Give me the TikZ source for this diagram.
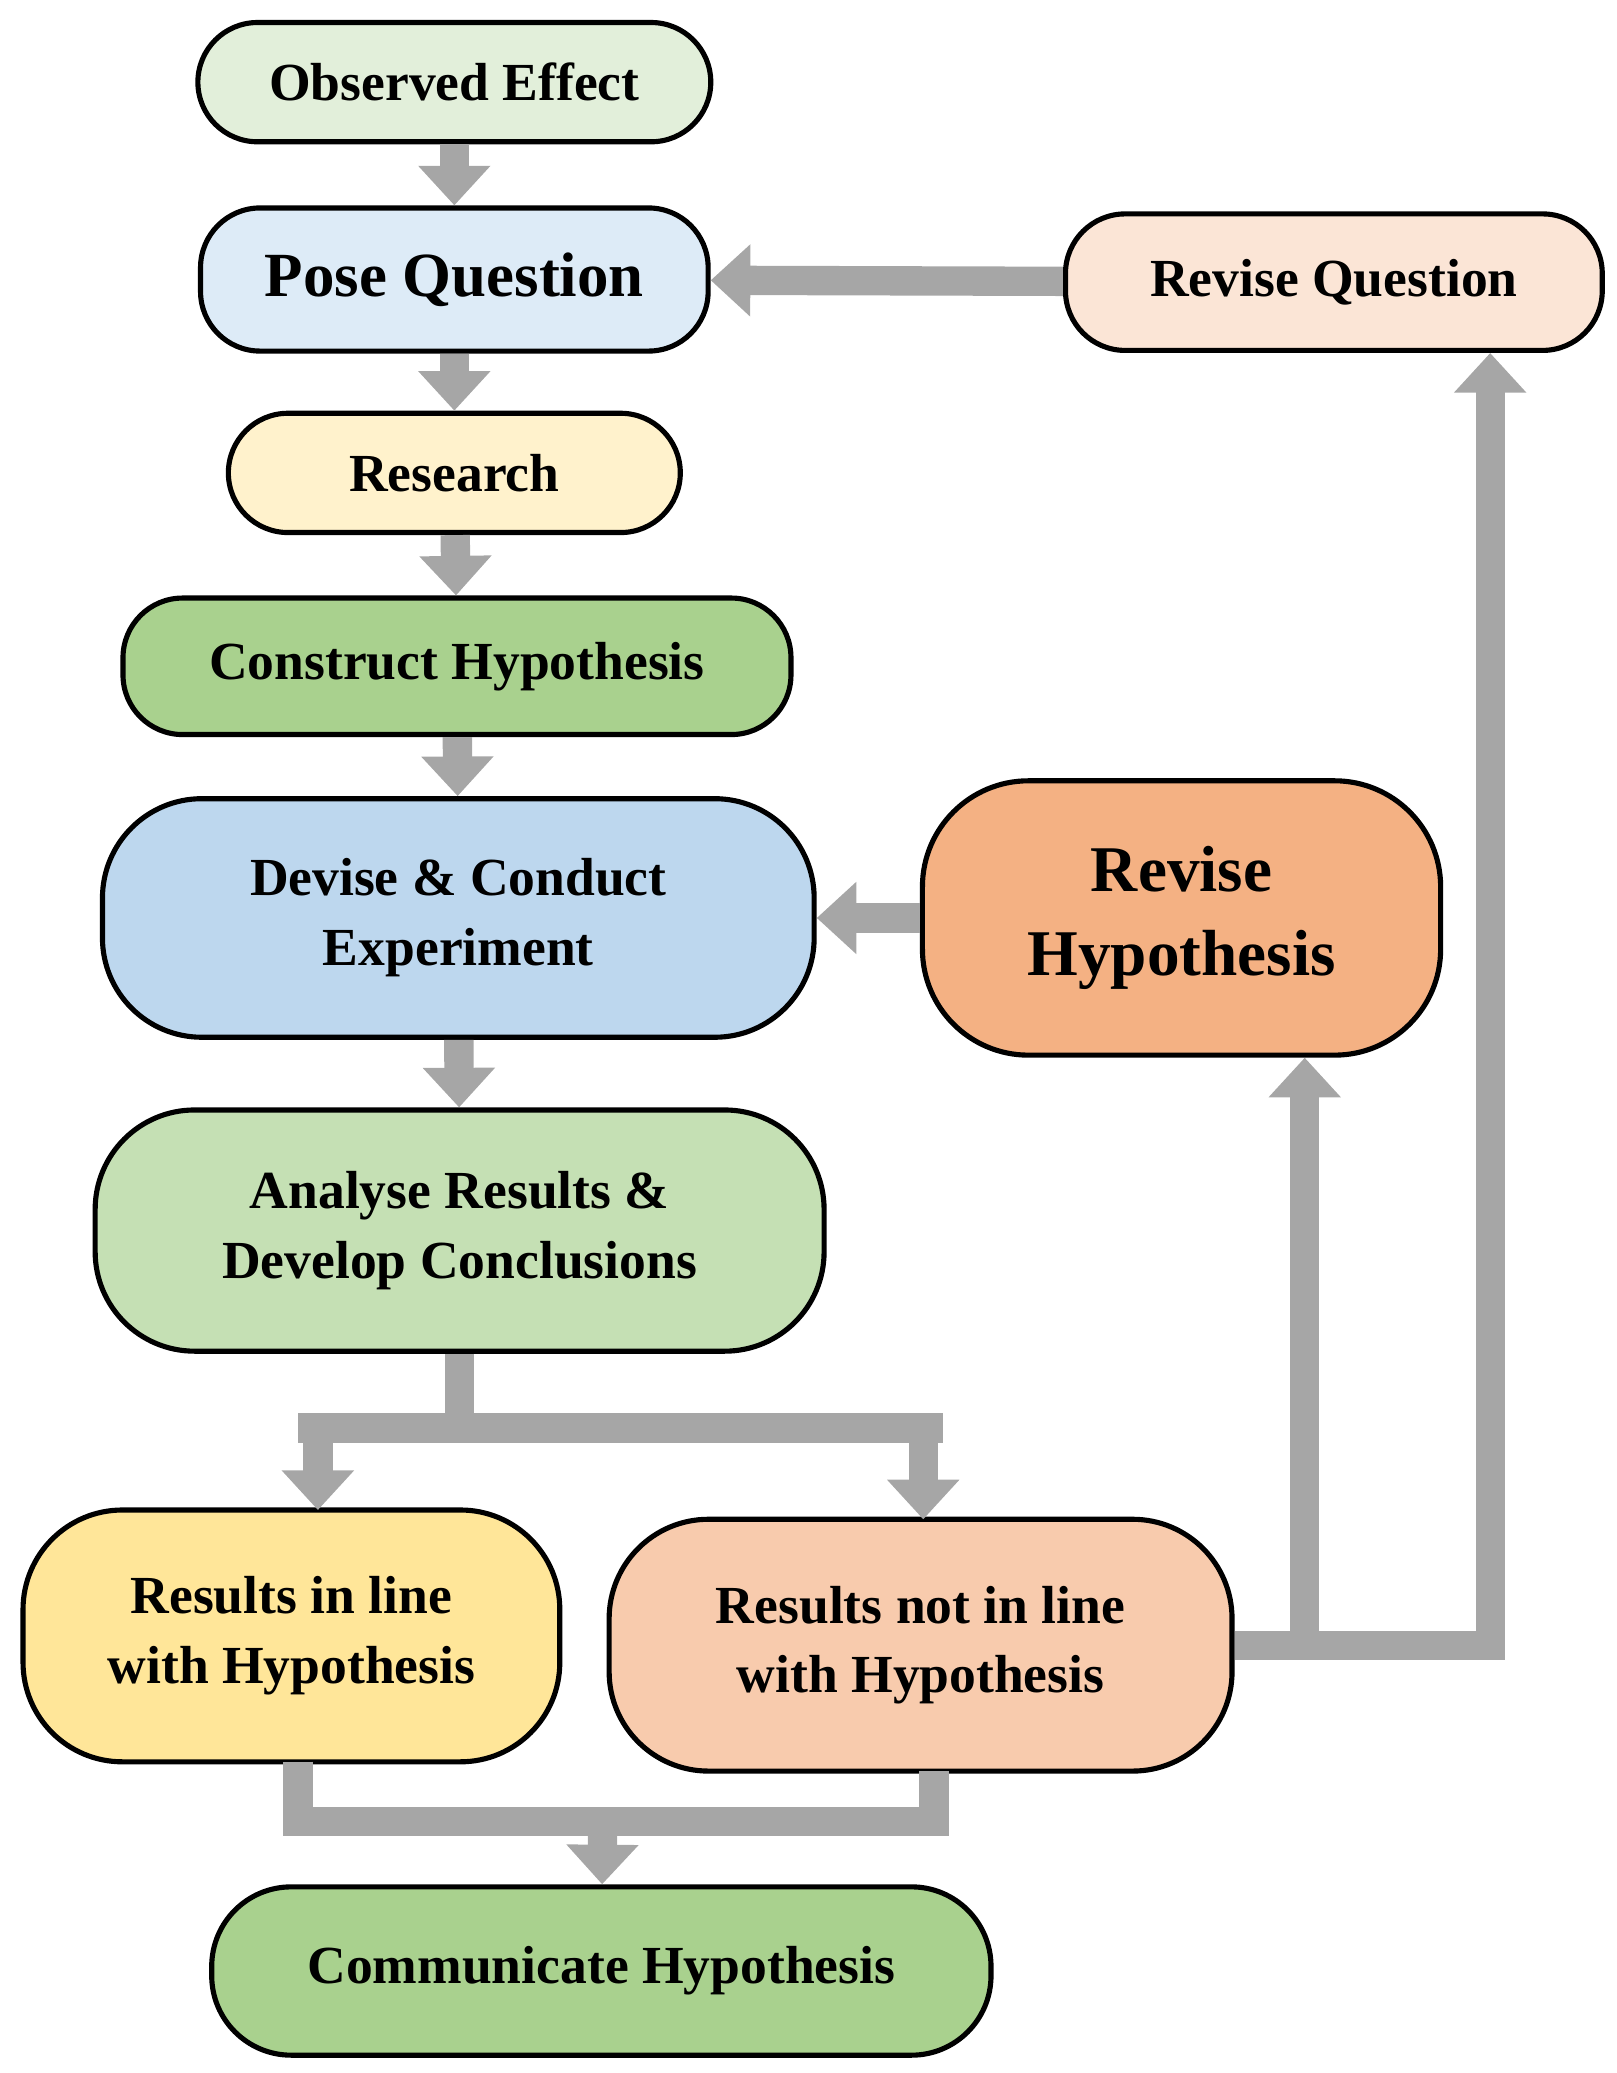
\documentclass[tikz,border=0pt]{standalone}
\usepackage{fontspec}
\setmainfont{Liberation Serif}
\usetikzlibrary{arrows.meta}
\definecolor{obsgreen}{HTML}{E2EFDA}
\definecolor{poseblue}{HTML}{DDEBF7}
\definecolor{resyellow}{HTML}{FFF2CC}
\definecolor{midgreen}{HTML}{A9D18E}
\definecolor{devblue}{HTML}{BDD7EE}
\definecolor{revorange}{HTML}{F4B183}
\definecolor{anagreen}{HTML}{C5E0B4}
\definecolor{inyellow}{HTML}{FFE699}
\definecolor{notpeach}{HTML}{F8CBAD}
\definecolor{qpeach}{HTML}{FBE5D6}
\definecolor{arrgray}{HTML}{A6A6A6}
\begin{document}
\begin{tikzpicture}[x=0.01cm,y=-0.01cm,
	every node/.style={shape=rectangle,draw,line width=1.1pt,rounded corners=0.45cm,align=center,font=\bfseries\fontsize{11.5}{15}\selectfont,inner sep=0pt},
	flow/.style={draw=arrgray,line width=6.3pt,-{Triangle[width=15pt,length=8.5pt]}},
	bar/.style={draw=arrgray,line width=6.3pt},]
	\useasboundingbox (0,0) rectangle (1220,1565);
	% create the nodes
	\node (observed)[fill=obsgreen, minimum width=3.87cm, minimum height=0.9cm] at (343,62) {Observed Effect};
	\node (pose)[fill=poseblue, minimum width=3.83cm, minimum height=1.08cm, font=\bfseries\fontsize{13.5}{16}\selectfont] at (343,211) {Pose Question};
	\node (revq)[fill=qpeach, minimum width=4.05cm, minimum height=1.03cm] at (1007,213) {Revise Question};
	\node (research)[fill=resyellow, minimum width=3.41cm, minimum height=0.9cm] at (343,357) {Research};
	\node (construct)[fill=midgreen, minimum width=5.04cm, minimum height=1.03cm] at (345,503) {Construct Hypothesis};
	\node (devise)[fill=devblue, minimum width=5.37cm, minimum height=1.8cm, rounded corners=0.75cm] at (346,693) {Devise \& Conduct\\Experiment};
	\node (revh)[fill=revorange, minimum width=3.91cm, minimum height=2.07cm, rounded corners=0.8cm, font=\bfseries\fontsize{14}{18}\selectfont] at (892,693) {Revise\\Hypothesis};
	\node (analyse)[fill=anagreen, minimum width=5.5cm, minimum height=1.82cm, rounded corners=0.75cm] at (347,929) {Analyse Results \&\\Develop Conclusions};
	\node (inline)[fill=inyellow, minimum width=4.05cm, minimum height=1.9cm, rounded corners=0.75cm] at (220,1235) {Results in line\\with Hypothesis};
	\node (notinline)[fill=notpeach, minimum width=4.7cm, minimum height=1.9cm, rounded corners=0.75cm] at (695,1242) {Results not in line\\with Hypothesis};
	\node (comm)[fill=midgreen, minimum width=5.88cm, minimum height=1.27cm, rounded corners=0.6cm] at (454,1488) {Communicate Hypothesis};
	\coordinate (split) at (347,1078);
	\coordinate (join) at (455,1375);
	\coordinate (right) at (1125,1242);
	\coordinate (riseh) at (985,1242);

	% connect the nodes
	\draw[flow] (observed) -- (pose);
	\draw[flow] (pose) -- (research);
	\draw[flow] (research) -- (construct);
	\draw[flow] (construct) -- (devise);
	\draw[flow] (devise) -- (analyse);
	\draw[bar] (analyse) -- (split);
	\draw[bar] (225,1078) -- (712,1078);
	\draw[flow] (240,1078) -- (240,1140);
	\draw[flow] (697,1078) -- (697,1147);
	\draw[bar] (225,1330) |- (join) -| (705,1337);
	\draw[flow] (join) -- (comm);
	\draw[bar] (notinline.east) -- ([xshift=0.11cm]right);
	\draw[flow] (riseh) -- (riseh |- revh.south);
	\draw[flow] (right) -- (revq.south -| right);
	\draw[flow] (revh) -- (devise);
	\draw[flow] (revq) -- (pose);
\end{tikzpicture}
\end{document}
